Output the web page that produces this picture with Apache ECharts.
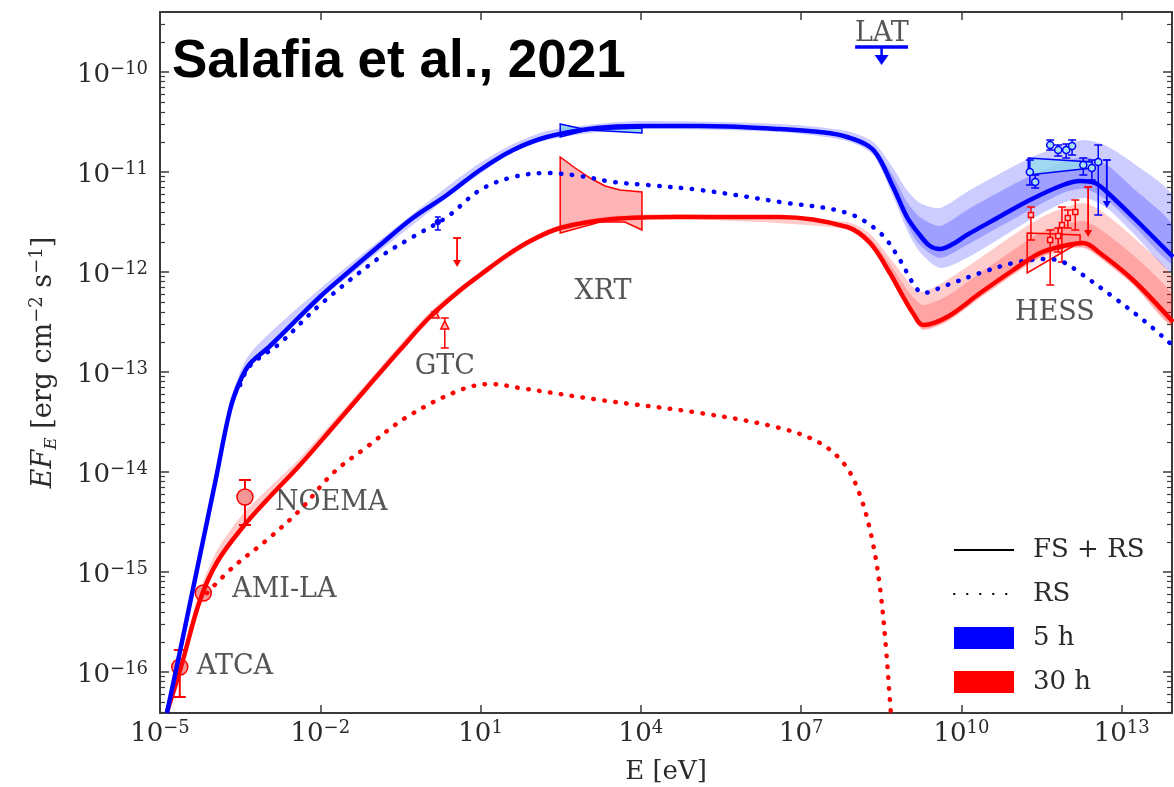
<!DOCTYPE html>
<html>
<head>
<meta charset="utf-8">
<script src="https://cdn.jsdelivr.net/npm/echarts@6/dist/echarts.min.js"></script>
<style>
  html, body { margin: 0; padding: 0; background: #fff; }
  #chart { width: 1174px; height: 787px; }
</style>
</head>
<body>
<div id="chart"></div>
<script>
// ---- Axis ticks (powers of ten) ----
const xTickExp = [-5, -2, 1, 4, 7, 10, 13];
const yTickExp = [-16, -15, -14, -13, -12, -11, -10];

// ---- Model curves: [log10 E (eV), log10 E F_E (erg cm^-2 s^-1)] ----
const fsrs5h = [[-4.87,-16.41],[-4.57,-15.65],[-4.27,-14.88],[-3.97,-14.11],[-3.69,-13.38],[-3.50,-13.09],[-3.32,-12.92],[-2.94,-12.74],[-2.01,-12.25],[-1.54,-12.03],[-0.88,-11.73],[-0.27,-11.46],[0.37,-11.23],[0.99,-10.98],[1.61,-10.78],[2.24,-10.65],[3.18,-10.56],[4.02,-10.54],[5.11,-10.54],[6.60,-10.57],[7.35,-10.60],[7.86,-10.65],[8.35,-10.78],[8.72,-11.15],[8.98,-11.45],[9.22,-11.63],[9.41,-11.74],[9.60,-11.77],[9.84,-11.72],[10.10,-11.63],[10.67,-11.46],[11.28,-11.28],[11.90,-11.13],[12.22,-11.09],[12.50,-11.11],[12.72,-11.20],[13.21,-11.45],[13.96,-11.85]];
const rs5h = [[-3.50,-13.13],[-3.32,-12.94],[-2.75,-12.71],[-2.01,-12.33],[-0.88,-11.85],[-0.27,-11.65],[0.37,-11.45],[0.99,-11.18],[1.61,-11.05],[2.24,-11.01],[2.86,-11.04],[3.48,-11.10],[4.12,-11.13],[5.11,-11.18],[6.60,-11.30],[7.86,-11.41],[8.48,-11.61],[8.85,-11.88],[9.09,-12.11],[9.28,-12.21],[9.73,-12.13],[10.35,-12.01],[10.97,-11.91],[11.60,-11.87],[11.90,-11.90],[12.22,-12.01],[12.84,-12.25],[13.47,-12.51],[13.94,-12.73]];
const fsrs30h = [[-4.87,-16.40],[-4.68,-16.08],[-4.57,-15.88],[-4.25,-15.28],[-3.93,-14.90],[-3.45,-14.55],[-3.00,-14.28],[-2.38,-13.93],[-1.76,-13.55],[-1.13,-13.16],[-0.51,-12.78],[0.05,-12.45],[0.60,-12.19],[0.99,-12.03],[1.50,-11.83],[1.93,-11.69],[2.49,-11.56],[3.48,-11.47],[4.73,-11.45],[6.60,-11.45],[7.86,-11.55],[8.29,-11.71],[8.66,-12.01],[8.91,-12.25],[9.09,-12.41],[9.28,-12.53],[9.73,-12.45],[10.35,-12.21],[10.97,-11.98],[11.47,-11.81],[11.90,-11.74],[12.28,-11.71],[12.59,-11.81],[13.21,-12.08],[13.96,-12.50]];
const rs30h = [[-4.12,-15.21],[-3.63,-14.95],[-3.00,-14.68],[-2.38,-14.38],[-1.76,-14.01],[-1.13,-13.75],[-0.38,-13.45],[0.62,-13.18],[1.18,-13.12],[1.74,-13.16],[3.24,-13.28],[5.11,-13.41],[6.60,-13.56],[7.35,-13.71],[7.82,-13.93],[8.10,-14.23],[8.33,-14.68],[8.48,-15.18],[8.59,-15.78],[8.66,-16.28],[8.72,-16.68]];

// ---- Model uncertainty bands: [log10 E, lower, upper] ----
const band5hOuter = [[-3.69,-13.40,-13.28],[-3.32,-12.95,-12.82],[-2.01,-12.28,-12.17],[0.37,-11.26,-11.15],[0.99,-11.02,-10.91],[1.61,-10.80,-10.72],[2.24,-10.68,-10.59],[3.18,-10.60,-10.52],[4.02,-10.57,-10.49],[6.60,-10.60,-10.52],[7.86,-10.69,-10.59],[8.35,-10.83,-10.70],[8.72,-11.24,-10.96],[8.98,-11.58,-11.18],[9.22,-11.80,-11.31],[9.60,-11.96,-11.36],[10.10,-11.86,-11.20],[10.67,-11.68,-11.03],[11.28,-11.48,-10.86],[11.90,-11.31,-10.73],[12.31,-11.26,-10.68],[12.72,-11.36,-10.74],[13.21,-11.61,-10.91],[13.96,-12.00,-11.25]];
const band5hInner = [[8.35,-10.80,-10.74],[8.72,-11.20,-11.04],[8.98,-11.52,-11.30],[9.22,-11.73,-11.45],[9.60,-11.86,-11.54],[10.10,-11.73,-11.38],[10.67,-11.56,-11.21],[11.28,-11.38,-11.04],[11.90,-11.21,-10.90],[12.31,-11.17,-10.85],[12.72,-11.28,-10.93],[13.21,-11.53,-11.16],[13.96,-11.92,-11.54]];
const band30hOuter = [[-4.57,-15.90,-15.80],[-4.25,-15.31,-15.18],[-3.93,-14.93,-14.78],[-3.45,-14.58,-14.42],[-3.00,-14.30,-14.18],[-2.38,-13.95,-13.86],[-1.13,-13.18,-13.11],[0.05,-12.47,-12.40],[0.99,-12.06,-12.00],[1.93,-11.72,-11.66],[2.49,-11.58,-11.53],[3.48,-11.49,-11.44],[4.73,-11.47,-11.42],[7.86,-11.57,-11.50],[8.29,-11.74,-11.62],[8.66,-12.05,-11.86],[8.91,-12.29,-12.03],[9.09,-12.45,-12.15],[9.28,-12.58,-12.20],[9.73,-12.50,-12.08],[10.35,-12.26,-11.86],[10.97,-12.03,-11.63],[11.47,-11.86,-11.46],[11.90,-11.78,-11.36],[12.28,-11.76,-11.31],[12.59,-11.86,-11.38],[13.21,-12.13,-11.65],[13.96,-12.55,-12.06]];
const band30hInner = [[7.86,-11.56,-11.52],[8.29,-11.73,-11.66],[8.66,-12.04,-11.92],[8.91,-12.28,-12.12],[9.09,-12.44,-12.25],[9.28,-12.57,-12.33],[9.73,-12.49,-12.24],[10.35,-12.25,-12.01],[10.97,-12.02,-11.78],[11.47,-11.85,-11.61],[11.90,-11.77,-11.53],[12.28,-11.75,-11.49],[12.59,-11.85,-11.57],[13.21,-12.12,-11.83],[13.96,-12.54,-12.24]];

// ---- Observations: [log10 E, log10 EF, err low, err high] ----
const radio30h = [[-4.63,-15.95,-16.25,-15.78],[-4.19,-15.21,-15.24,-15.18],[-3.41,-14.25,-14.53,-14.08]];
const optical5h = [[0.20,-11.50,-11.58,-11.45]];
const optical30h = [[0.15,-12.42,-12.45,-12.40],[0.33,-12.53,-12.76,-12.46]];
const hess5h = [[11.28,-11.00,-11.13,-10.88],[11.38,-11.10,-11.16,-11.03],[11.66,-10.73,-10.78,-10.68],[11.81,-10.78,-10.84,-10.73],[11.96,-10.78,-10.86,-10.72],[12.07,-10.74,-10.83,-10.68],[12.28,-10.93,-11.03,-10.86],[12.44,-10.96,-11.08,-10.88],[12.56,-10.90,-11.43,-10.73]];
const hess30h = [[11.30,-11.43,-11.68,-11.35],[11.66,-11.68,-12.13,-11.58],[11.81,-11.64,-11.80,-11.56],[11.88,-11.53,-11.90,-11.35],[11.99,-11.46,-11.56,-11.38],[12.13,-11.40,-11.58,-11.28]];

// Upper limits: [log10 E, log10 EF of limit, arrow tip]
const limits5h = [[12.72,-10.88,-11.36]];
const limits30h = [[0.56,-11.66,-11.95],[12.37,-11.15,-11.65]];
// LAT limit: [log10 E low, log10 E high, log10 EF, arrow tip]
const latLimit = [8.01, 9.00, -9.75, -9.93];

// Spectral butterflies: upper and lower edges, [log10 E, log10 EF]
const xrt5hUpper = [[2.49,-10.52],[3.00,-10.58],[4.02,-10.56]];
const xrt5hLower = [[2.49,-10.65],[3.00,-10.58],[4.02,-10.61]];
const xrt30hUpper = [[2.49,-10.85],[2.77,-10.96],[3.05,-11.06],[3.33,-11.14],[3.61,-11.18],[4.02,-11.20]];
const xrt30hLower = [[2.49,-11.61],[3.24,-11.50],[3.70,-11.50],[4.02,-11.58]];
const hessBow5hUpper = [[11.25,-10.86],[12.44,-10.90]];
const hessBow5hLower = [[11.25,-11.03],[12.44,-10.96]];
const hessBow30hUpper = [[11.23,-11.61],[12.22,-11.63]];
const hessBow30hLower = [[11.23,-12.01],[12.22,-11.70]];

// Instrument tags: [text, log10 E, log10 EF, anchor]
const instrumentTags = [
  ['ATCA', -4.31, -15.95, 'left'],
  ['AMI-LA', -3.65, -15.18, 'left'],
  ['NOEMA', -2.85, -14.31, 'left'],
  ['GTC', 0.33, -12.95, 'center'],
  ['XRT', 3.29, -12.20, 'center'],
  ['HESS', 11.75, -12.41, 'center'],
  ['LAT', 8.51, -9.62, 'center']
];

const BLUE = '#0000ff';
const RED = '#ff0000';
const TEXT = '#2a2a2a';
const SERIF = 'DejaVu Serif';

// minor ticks of a log axis: 2..9 times each decade
const yMinor = [];
for (let n = -17; n <= -10; n++) {
  for (let k = 2; k <= 9; k++) yMinor.push(n + Math.log10(k));
}

function powLabel(v) {
  const e = Math.round(v);
  const sup = e < 0 ? '\u2212' + (-e) : String(e);
  return '{b|10}{s|' + sup + '}';
}
const tickRich = {
  b: { fontFamily: SERIF, fontSize: 26, color: TEXT, lineHeight: 30 },
  s: { fontFamily: SERIF, fontSize: 18, color: TEXT, lineHeight: 30, verticalAlign: 'top' }
};

// filled region between two edges
function bandSeries(rows, color, name) {
  return {
    type: 'custom', name: name, clip: true, silent: true,
    data: [[rows[0][0], rows[0][1]]],
    renderItem: function (params, api) {
      const up = rows.map(r => api.coord([r[0], r[2]]));
      const lo = rows.slice().reverse().map(r => api.coord([r[0], r[1]]));
      return { type: 'polygon', shape: { points: up.concat(lo), smooth: 0.25 }, style: { fill: color } };
    }
  };
}
function lineSeries(data, color, dotted) {
  return {
    type: 'line', data: data, smooth: 0.35, symbol: 'none', silent: true,
    lineStyle: dotted
      ? { color: color, width: 4.5, type: [0.5, 10.5], cap: 'round' }
      : { color: color, width: 4.5 }
  };
}
function bowtieSeries(upper, lower, fill, stroke) {
  return {
    type: 'custom', clip: true, silent: true,
    data: [upper[0]],
    renderItem: function (params, api) {
      const pts = upper.map(p => api.coord(p)).concat(lower.slice().reverse().map(p => api.coord(p)));
      return { type: 'polygon', shape: { points: pts }, style: { fill: fill, stroke: stroke, lineWidth: 1.5 } };
    }
  };
}
function errorBarSeries(rows, color, lw, cap) {
  return {
    type: 'custom', clip: true, silent: true, data: rows, encode: { x: 0, y: 1 },
    renderItem: function (params, api) {
      const x = api.value(0);
      const a = api.coord([x, api.value(2)]);
      const b = api.coord([x, api.value(3)]);
      const st = { stroke: color, lineWidth: lw };
      return { type: 'group', children: [
        { type: 'line', shape: { x1: a[0], y1: a[1], x2: b[0], y2: b[1] }, style: st },
        { type: 'line', shape: { x1: a[0] - cap, y1: a[1], x2: a[0] + cap, y2: a[1] }, style: st },
        { type: 'line', shape: { x1: b[0] - cap, y1: b[1], x2: b[0] + cap, y2: b[1] }, style: st }
      ] };
    }
  };
}
function limitSeries(rows, color, lw) {
  return {
    type: 'custom', clip: true, silent: true, data: rows, encode: { x: 0, y: 1 },
    renderItem: function (params, api) {
      const x = api.value(0);
      const t = api.coord([x, api.value(1)]);
      const p = api.coord([x, api.value(2)]);
      const st = { stroke: color, lineWidth: lw };
      return { type: 'group', children: [
        { type: 'line', shape: { x1: t[0] - 4, y1: t[1], x2: t[0] + 4, y2: t[1] }, style: st },
        { type: 'line', shape: { x1: t[0], y1: t[1], x2: p[0], y2: p[1] - 6 }, style: st },
        { type: 'polygon', shape: { points: [[p[0] - 4, p[1] - 7], [p[0] + 4, p[1] - 7], [p[0], p[1]]] }, style: { fill: color } }
      ] };
    }
  };
}
function markerSeries(rows, symbol, size, fill, stroke) {
  return {
    type: 'scatter', silent: true, symbol: symbol, symbolSize: size,
    data: rows.map(r => [r[0], r[1]]),
    itemStyle: { color: fill, borderColor: stroke, borderWidth: 1.5, opacity: 1 }
  };
}

const chart = echarts.init(document.getElementById('chart'), null, { renderer: 'canvas' });

const frameLine = { show: true, onZero: false, lineStyle: { color: '#3a3a3a', width: 2 } };
const noLine = { show: false, onZero: false };
const yRange = { min: -16.41, max: -9.40 };
const xRange = { min: -5, max: 13.94 };

const option = {
  animation: false,
  backgroundColor: '#ffffff',
  title: {
    text: 'Salafia et al., 2021', left: 172, top: 36, padding: 0,
    textStyle: { fontFamily: 'Liberation Sans', fontSize: 53, fontWeight: 'bold', color: '#000' }
  },
  grid: { left: 160, top: 12, width: 1012, height: 701, containLabel: false, outerBoundsMode: 'none' },
  legend: {
    orient: 'vertical', left: 953, top: 537, padding: 0,
    itemWidth: 60, itemHeight: 22, itemGap: 18,
    selectedMode: false,
    textStyle: { fontFamily: SERIF, fontSize: 26, color: TEXT, padding: [0, 0, 0, 14] },
    data: [
      { name: 'FS + RS', itemStyle: { opacity: 0 } },
      { name: 'RS', itemStyle: { opacity: 0 } },
      { name: '5 h', icon: 'rect', itemStyle: { color: BLUE } },
      { name: '30 h', icon: 'rect', itemStyle: { color: RED } }
    ]
  },
  xAxis: [
    Object.assign({
      type: 'value', position: 'bottom',
      axisLine: frameLine,
      axisTick: { show: true, inside: true, length: 8, lineStyle: { color: '#3a3a3a', width: 1.5 }, customValues: xTickExp },
      axisLabel: { show: true, margin: 6, customValues: xTickExp, formatter: powLabel, rich: tickRich },
      splitLine: { show: false },
      name: 'E [eV]', nameLocation: 'middle', nameGap: 46,
      nameTextStyle: { fontFamily: SERIF, fontSize: 26, color: TEXT }
    }, xRange),
    Object.assign({
      type: 'value', position: 'top',
      axisLine: frameLine,
      axisTick: { show: true, inside: true, length: 8, lineStyle: { color: '#3a3a3a', width: 1.5 }, customValues: xTickExp },
      axisLabel: { show: false },
      splitLine: { show: false }
    }, xRange)
  ],
  yAxis: [
    Object.assign({
      type: 'value', position: 'left',
      axisLine: frameLine,
      axisTick: { show: true, inside: true, length: 9, lineStyle: { color: '#3a3a3a', width: 1.5 }, customValues: yTickExp },
      axisLabel: { show: true, margin: 12, padding: [6, 0, 0, 0], customValues: yTickExp, formatter: powLabel, rich: tickRich },
      splitLine: { show: false },
      name: '{i|EF}{sub|E}{t| [erg cm}{sup|\u22122}{t| s}{sup|\u22121}{t|]}',
      nameLocation: 'middle', nameRotate: 90, nameGap: 100,
      nameTextStyle: {
        color: TEXT,
        rich: {
          i: { fontFamily: SERIF, fontStyle: 'italic', fontSize: 27, color: TEXT, lineHeight: 32 },
          sub: { fontFamily: SERIF, fontStyle: 'italic', fontSize: 17, color: TEXT, lineHeight: 32, verticalAlign: 'bottom' },
          t: { fontFamily: SERIF, fontSize: 27, color: TEXT, lineHeight: 32 },
          sup: { fontFamily: SERIF, fontSize: 18, color: TEXT, lineHeight: 32, verticalAlign: 'top' }
        }
      }
    }, yRange),
    Object.assign({
      type: 'value', position: 'left',
      axisLine: noLine,
      axisTick: { show: true, inside: true, length: 5, lineStyle: { color: '#3a3a3a', width: 1.2 }, customValues: yMinor },
      axisLabel: { show: false }, splitLine: { show: false }
    }, yRange),
    Object.assign({
      type: 'value', position: 'right',
      axisLine: frameLine,
      axisTick: { show: true, inside: true, length: 9, lineStyle: { color: '#3a3a3a', width: 1.5 }, customValues: yTickExp },
      axisLabel: { show: false }, splitLine: { show: false }
    }, yRange),
    Object.assign({
      type: 'value', position: 'right',
      axisLine: noLine,
      axisTick: { show: true, inside: true, length: 5, lineStyle: { color: '#3a3a3a', width: 1.2 }, customValues: yMinor },
      axisLabel: { show: false }, splitLine: { show: false }
    }, yRange)
  ],
  series: [
    bandSeries(band5hOuter, 'rgba(0,0,255,0.2)', '5 h'),
    bandSeries(band5hInner, 'rgba(0,0,255,0.22)', 'band5hInner'),
    bandSeries(band30hOuter, 'rgba(255,0,0,0.2)', '30 h'),
    bandSeries(band30hInner, 'rgba(255,0,0,0.2)', 'band30hInner'),

    lineSeries(rs30h, RED, true),
    lineSeries(rs5h, BLUE, true),
    lineSeries(fsrs30h, RED, false),
    lineSeries(fsrs5h, BLUE, false),

    bowtieSeries(xrt5hUpper, xrt5hLower, 'rgba(120,200,230,0.75)', BLUE),
    bowtieSeries(xrt30hUpper, xrt30hLower, 'rgba(255,60,60,0.38)', RED),
    bowtieSeries(hessBow5hUpper, hessBow5hLower, 'rgba(150,220,240,0.8)', BLUE),
    bowtieSeries(hessBow30hUpper, hessBow30hLower, 'rgba(255,120,120,0.15)', RED),

    errorBarSeries(radio30h, RED, 2, 6),
    errorBarSeries(optical5h, BLUE, 1.5, 3),
    errorBarSeries(optical30h, RED, 1.5, 4),
    errorBarSeries(hess5h, BLUE, 1.5, 4),
    errorBarSeries(hess30h, RED, 1.5, 4),

    markerSeries(radio30h, 'circle', 16, 'rgba(244,150,150,1)', RED),
    markerSeries(optical5h, 'circle', 5, BLUE, BLUE),
    markerSeries(optical30h, 'triangle', 8, 'rgba(255,180,180,1)', RED),
    markerSeries(hess5h, 'circle', 7, 'rgba(170,225,240,1)', BLUE),
    markerSeries(hess30h, 'rect', 5, 'rgba(255,200,200,1)', RED),

    limitSeries(limits5h, BLUE, 1.8),
    limitSeries(limits30h, RED, 1.8),

    {
      type: 'custom', clip: false, silent: true,
      data: [[latLimit[0], latLimit[2]]],
      renderItem: function (params, api) {
        const l = api.coord([latLimit[0], latLimit[2]]);
        const r = api.coord([latLimit[1], latLimit[2]]);
        const c = api.coord([(latLimit[0] + latLimit[1]) / 2, latLimit[2]]);
        const tip = api.coord([(latLimit[0] + latLimit[1]) / 2, latLimit[3]]);
        return { type: 'group', children: [
          { type: 'line', shape: { x1: l[0], y1: l[1], x2: r[0], y2: r[1] }, style: { stroke: BLUE, lineWidth: 3.5 } },
          { type: 'line', shape: { x1: c[0], y1: c[1], x2: tip[0], y2: tip[1] - 8 }, style: { stroke: BLUE, lineWidth: 2.5 } },
          { type: 'polygon', shape: { points: [[tip[0] - 7, tip[1] - 10], [tip[0] + 7, tip[1] - 10], [tip[0], tip[1]]] }, style: { fill: BLUE } }
        ] };
      }
    },

    {
      type: 'scatter', silent: true, symbolSize: 0,
      data: instrumentTags.map(t => ({
        value: [t[1], t[2]], name: t[0],
        label: { align: t[3] }
      })),
      label: {
        show: true, position: [0, 0], verticalAlign: 'middle',
        formatter: p => p.name,
        fontFamily: SERIF, fontSize: 27, color: TEXT
      }
    },

    { type: 'line', name: 'FS + RS', data: [], symbol: 'none', color: '#000', lineStyle: { color: '#000', width: 3.5 } },
    { type: 'line', name: 'RS', data: [], symbol: 'none', color: '#000', lineStyle: { color: '#000', width: 4.5, type: [0.5, 12.5], cap: 'round' } }
  ]
};

chart.setOption(option);
</script>
</body>
</html>
